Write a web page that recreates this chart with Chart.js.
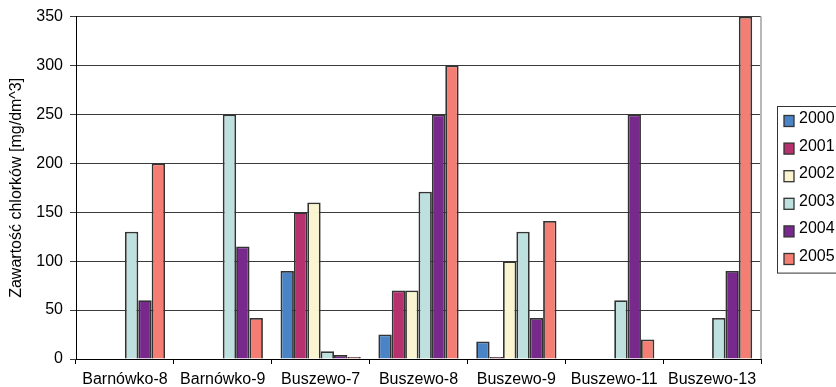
<!DOCTYPE html>
<html>
<head>
<meta charset="utf-8">
<script src="https://cdn.jsdelivr.net/npm/chart.js@4.4.1/dist/chart.umd.min.js"></script>
<style>
html,body{margin:0;padding:0;background:#fff;}
#wrap{width:836px;height:387px;}
</style>
</head>
<body>
<div id="wrap"><canvas id="c" width="836" height="387"></canvas></div>
<script>
const categories = ["Barnówko-8", "Barnówko-9", "Buszewo-7", "Buszewo-8", "Buszewo-9", "Buszewo-11", "Buszewo-13"];
const years = ["2000", "2001", "2002", "2003", "2004", "2005"];
const v2000 = [null, null, 90, 25, 18, null, null];
const v2001 = [null, null, 150, 70, 2, null, null];
const v2002 = [null, null, 160, 70, 100, null, null];
const v2003 = [130, 250, 8, 171, 130, 60, 42];
const v2004 = [60, 115, 4, 250, 42, 250, 90];
const v2005 = [200, 42, 2, 300, 141, 20, 350];
const yTicks = [0, 50, 100, 150, 200, 250, 300, 350];
const yTitle = "Zawartość chlorków [mg/dm^3]";

const seriesValues = [v2000, v2001, v2002, v2003, v2004, v2005];
const colors = ["#4A84C6", "#B5326E", "#FAF5D0", "#BEE0DE", "#782A8C", "#F47E73"];

const FONT = "'Liberation Sans', Arial, sans-serif";

const legendPlugin = {
  id: 'boxLegend',
  afterDraw(chart) {
    const ctx = chart.ctx;
    const ca = chart.chartArea;
    const x0 = ca.right + 16;
    const y0 = 106;
    const rowH = 27.6;
    const n = chart.data.datasets.length;
    ctx.save();
    ctx.strokeStyle = '#333';
    ctx.lineWidth = 1;
    ctx.strokeRect(x0 + 0.5, y0 + 0.5, 80, n * rowH + 1);
    ctx.font = "16px " + FONT;
    ctx.textBaseline = 'middle';
    ctx.fillStyle = '#000';
    chart.data.datasets.forEach((ds, i) => {
      const cy = y0 + 14.5 + i * rowH;
      ctx.fillStyle = ds.backgroundColor;
      ctx.fillRect(x0 + 7, cy - 5, 10, 11);
      ctx.strokeStyle = '#333';
      ctx.lineWidth = 1.3;
      ctx.strokeRect(x0 + 7, cy - 5, 10, 11);
      ctx.fillStyle = '#000';
      ctx.fillText(ds.label, x0 + 22, cy - 2);
    });
    ctx.restore();
  }
};

const borderPlugin = {
  id: 'plotBorder',
  afterDatasetsDraw(chart) {
    const ctx = chart.ctx;
    const ca = chart.chartArea;
    ctx.save();
    ctx.strokeStyle = '#b8b8b8';
    ctx.lineWidth = 2;
    ctx.beginPath();
    ctx.moveTo(ca.right, ca.top);
    ctx.lineTo(ca.right, ca.bottom);
    ctx.stroke();
    ctx.restore();
  }
};

new Chart(document.getElementById('c'), {
  type: 'bar',
  data: {
    labels: categories,
    datasets: years.map((y, i) => ({
      label: y,
      data: seriesValues[i],
      backgroundColor: colors[i],
      borderColor: '#333',
      borderWidth: 1.8,
      categoryPercentage: 0.82,
      barPercentage: 1.0
    }))
  },
  options: {
    responsive: false,
    animation: false,
    devicePixelRatio: 1,
    layout: { padding: { left: 0, right: 75, top: 15, bottom: 0 } },
    plugins: { legend: { display: false }, tooltip: { enabled: false } },
    scales: {
      x: {
        offset: true,
        grid: { offset: true, drawOnChartArea: false, drawTicks: true, tickLength: 5, color: '#000', lineWidth: 1 },
        border: { color: '#000', width: 1 },
        ticks: { color: '#000', font: { family: FONT, size: 16 }, padding: 6, maxRotation: 0, autoSkip: false },
        afterFit(s) { s.height = 28; }
      },
      y: {
        min: 0, max: 350,
        afterBuildTicks(s) { s.ticks = yTicks.map(v => ({ value: v })); },
        grid: { color: '#3a3a3a', lineWidth: 1, tickLength: 6 },
        border: { color: '#000', width: 1 },
        ticks: { color: '#000', font: { family: FONT, size: 16 }, padding: 7 },
        title: { display: true, text: yTitle, color: '#000', font: { family: FONT, size: 16 }, padding: { top: 7, bottom: 0 } },
        afterFit(s) { s.width = 76; }
      }
    }
  },
  plugins: [legendPlugin, borderPlugin]
});
</script>
</body>
</html>
